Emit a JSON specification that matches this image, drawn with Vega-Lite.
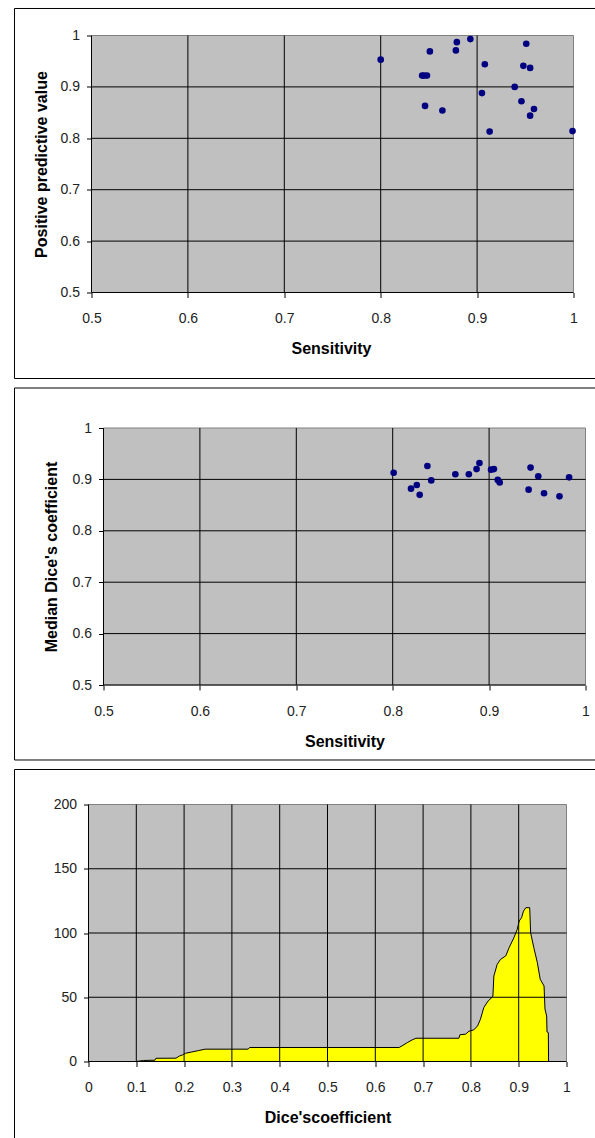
{
  "$schema": "https://vega.github.io/schema/vega-lite/v6.json",
  "padding": {"left": 13.5, "top": 7.5, "right": 0, "bottom": 0},
  "spacing": 7.5,
  "config": {
    "view": {"stroke": null},
    "axis": {
      "domain": false, "grid": false,
      "tickColor": "#000000", "tickSize": 5, "tickWidth": 1,
      "labelFont": "Liberation Sans", "labelFontSize": 14, "labelColor": "#222222",
      "titleFont": "Liberation Sans", "titleFontSize": 16, "titleFontWeight": "bold", "titleColor": "#000000",
      "labelOverlap": false, "labelFlush": false
    },
    "axisX": {"labelPadding": 14, "titlePadding": 15},
    "axisY": {"labelPadding": 7}
  },
  "vconcat": [
    {
      "width": 485,
      "height": 257,
      "layer": [
        {
          "data": {"values": [{}]},
          "mark": {"type": "rect", "fill": "#C0C0C0", "stroke": "#808080", "strokeWidth": 1},
          "encoding": {
            "x": {"datum": 0.5, "type": "quantitative", "scale": {"domain": [0.496888, 1], "nice": false, "zero": false},
              "axis": {"title": "Sensitivity", "values": [0.5, 0.6, 0.7, 0.8, 0.9, 1], "format": "~g"}},
            "x2": {"datum": 1},
            "y": {"datum": 0.5, "type": "quantitative", "scale": {"domain": [0.5, 1], "nice": false, "zero": false},
              "axis": {"title": "Positive predictive value", "values": [0.5, 0.6, 0.7, 0.8, 0.9, 1], "format": "~g", "titlePadding": 11, "offset": -3}},
            "y2": {"datum": 1}
          }
        },
        {
          "data": {"values": [{"v": 0.5}, {"v": 0.6}, {"v": 0.7}, {"v": 0.8}, {"v": 0.9}]},
          "mark": {"type": "rule", "color": "#000000", "strokeWidth": 1},
          "encoding": {
            "y": {"field": "v", "type": "quantitative"},
            "x": {"datum": 0.5, "type": "quantitative"},
            "x2": {"datum": 1}
          }
        },
        {
          "data": {"values": [{"v": 0.5}, {"v": 0.6}, {"v": 0.7}, {"v": 0.8}, {"v": 0.9}]},
          "mark": {"type": "rule", "color": "#000000", "strokeWidth": 1},
          "encoding": {
            "x": {"field": "v", "type": "quantitative"},
            "y": {"datum": 0.5, "type": "quantitative"},
            "y2": {"datum": 1}
          }
        },
        {
          "data": {"values": [
            {"sensitivity": 0.800, "ppv": 0.953},
            {"sensitivity": 0.851, "ppv": 0.969},
            {"sensitivity": 0.879, "ppv": 0.987},
            {"sensitivity": 0.878, "ppv": 0.971},
            {"sensitivity": 0.893, "ppv": 0.993},
            {"sensitivity": 0.951, "ppv": 0.984},
            {"sensitivity": 0.908, "ppv": 0.944},
            {"sensitivity": 0.948, "ppv": 0.941},
            {"sensitivity": 0.955, "ppv": 0.937},
            {"sensitivity": 0.843, "ppv": 0.922},
            {"sensitivity": 0.845, "ppv": 0.922},
            {"sensitivity": 0.848, "ppv": 0.922},
            {"sensitivity": 0.939, "ppv": 0.900},
            {"sensitivity": 0.905, "ppv": 0.888},
            {"sensitivity": 0.946, "ppv": 0.872},
            {"sensitivity": 0.846, "ppv": 0.863},
            {"sensitivity": 0.864, "ppv": 0.854},
            {"sensitivity": 0.959, "ppv": 0.857},
            {"sensitivity": 0.955, "ppv": 0.844},
            {"sensitivity": 0.913, "ppv": 0.813},
            {"sensitivity": 0.999, "ppv": 0.814}
          ]},
          "mark": {"type": "circle", "color": "#000080", "size": 44, "opacity": 1},
          "encoding": {
            "x": {"field": "sensitivity", "type": "quantitative"},
            "y": {"field": "ppv", "type": "quantitative"}
          }
        },
        {
          "data": {"values": [{}]},
          "mark": {"type": "rect", "filled": false, "stroke": "#000000", "strokeWidth": 1},
          "encoding": {
            "x": {"datum": 0.42012, "type": "quantitative"},
            "x2": {"datum": 1.028},
            "y": {"datum": 1.05253, "type": "quantitative"},
            "y2": {"datum": 0.33268}
          }
        }
      ]
    },
    {
      "width": 497,
      "height": 257,
      "layer": [
        {
          "data": {"values": [{}]},
          "mark": {"type": "rect", "fill": "#C0C0C0", "stroke": "#808080", "strokeWidth": 1},
          "encoding": {
            "x": {"datum": 0.5, "type": "quantitative", "scale": {"domain": [0.48444, 1], "nice": false, "zero": false},
              "axis": {"title": "Sensitivity", "values": [0.5, 0.6, 0.7, 0.8, 0.9, 1], "format": "~g", "titleX": 256}},
            "x2": {"datum": 1},
            "y": {"datum": 0.5, "type": "quantitative", "scale": {"domain": [0.5, 1], "nice": false, "zero": false},
              "axis": {"title": "Median Dice's coefficient", "values": [0.5, 0.6, 0.7, 0.8, 0.9, 1], "format": "~g", "titlePadding": 13, "offset": -15}},
            "y2": {"datum": 1}
          }
        },
        {
          "data": {"values": [{"v": 0.5}, {"v": 0.6}, {"v": 0.7}, {"v": 0.8}, {"v": 0.9}]},
          "mark": {"type": "rule", "color": "#000000", "strokeWidth": 1},
          "encoding": {
            "y": {"field": "v", "type": "quantitative"},
            "x": {"datum": 0.5, "type": "quantitative"},
            "x2": {"datum": 1}
          }
        },
        {
          "data": {"values": [{"v": 0.5}, {"v": 0.6}, {"v": 0.7}, {"v": 0.8}, {"v": 0.9}]},
          "mark": {"type": "rule", "color": "#000000", "strokeWidth": 1},
          "encoding": {
            "x": {"field": "v", "type": "quantitative"},
            "y": {"datum": 0.5, "type": "quantitative"},
            "y2": {"datum": 1}
          }
        },
        {
          "data": {"values": [
            {"sensitivity": 0.801, "dice": 0.913},
            {"sensitivity": 0.836, "dice": 0.926},
            {"sensitivity": 0.840, "dice": 0.898},
            {"sensitivity": 0.819, "dice": 0.882},
            {"sensitivity": 0.825, "dice": 0.889},
            {"sensitivity": 0.828, "dice": 0.870},
            {"sensitivity": 0.865, "dice": 0.910},
            {"sensitivity": 0.879, "dice": 0.910},
            {"sensitivity": 0.887, "dice": 0.920},
            {"sensitivity": 0.890, "dice": 0.932},
            {"sensitivity": 0.902, "dice": 0.919},
            {"sensitivity": 0.905, "dice": 0.920},
            {"sensitivity": 0.909, "dice": 0.899},
            {"sensitivity": 0.911, "dice": 0.894},
            {"sensitivity": 0.943, "dice": 0.923},
            {"sensitivity": 0.951, "dice": 0.906},
            {"sensitivity": 0.941, "dice": 0.880},
            {"sensitivity": 0.957, "dice": 0.873},
            {"sensitivity": 0.973, "dice": 0.867},
            {"sensitivity": 0.983, "dice": 0.904}
          ]},
          "mark": {"type": "circle", "color": "#000080", "size": 44, "opacity": 1},
          "encoding": {
            "x": {"field": "sensitivity", "type": "quantitative"},
            "y": {"field": "dice", "type": "quantitative"}
          }
        },
        {
          "data": {"values": [{}]},
          "mark": {"type": "rect", "filled": false, "stroke": "#000000", "strokeWidth": 1},
          "encoding": {
            "x": {"datum": 0.40768, "type": "quantitative"},
            "x2": {"datum": 1.01556},
            "y": {"datum": 1.07782, "type": "quantitative"},
            "y2": {"datum": 0.35409}
          }
        }
      ]
    },
    {
      "width": 478,
      "height": 257,
      "layer": [
        {
          "data": {"values": [{}]},
          "mark": {"type": "rect", "fill": "#C0C0C0", "stroke": "#808080", "strokeWidth": 1},
          "encoding": {
            "x": {"datum": 0, "type": "quantitative", "scale": {"domain": [0, 1], "nice": false, "zero": false},
              "axis": {"title": "Dice'scoefficient", "values": [0, 0.1, 0.2, 0.3, 0.4, 0.5, 0.6, 0.7, 0.8, 0.9, 1], "format": "~g"}},
            "x2": {"datum": 1},
            "y": {"datum": 0, "type": "quantitative", "scale": {"domain": [0, 200], "nice": false, "zero": false},
              "axis": {"title": null, "values": [0, 50, 100, 150, 200]}},
            "y2": {"datum": 200}
          }
        },
        {
          "data": {"values": [
            {"dice": 0.100, "count": 0},
            {"dice": 0.115, "count": 0.8},
            {"dice": 0.139, "count": 1.0},
            {"dice": 0.141, "count": 2.5},
            {"dice": 0.183, "count": 2.6},
            {"dice": 0.190, "count": 4.2},
            {"dice": 0.197, "count": 5.2},
            {"dice": 0.203, "count": 6.4},
            {"dice": 0.216, "count": 7.4},
            {"dice": 0.230, "count": 8.5},
            {"dice": 0.244, "count": 9.6},
            {"dice": 0.334, "count": 9.6},
            {"dice": 0.337, "count": 10.9},
            {"dice": 0.650, "count": 10.9},
            {"dice": 0.656, "count": 12.2},
            {"dice": 0.667, "count": 14.7},
            {"dice": 0.677, "count": 16.8},
            {"dice": 0.685, "count": 18.1},
            {"dice": 0.775, "count": 18.1},
            {"dice": 0.777, "count": 20.8},
            {"dice": 0.789, "count": 21.3},
            {"dice": 0.796, "count": 23.6},
            {"dice": 0.806, "count": 24.6},
            {"dice": 0.814, "count": 27.7},
            {"dice": 0.820, "count": 32.9},
            {"dice": 0.827, "count": 42.0},
            {"dice": 0.836, "count": 47.1},
            {"dice": 0.846, "count": 50.5},
            {"dice": 0.848, "count": 66.5},
            {"dice": 0.855, "count": 75.6},
            {"dice": 0.862, "count": 79.5},
            {"dice": 0.873, "count": 82.2},
            {"dice": 0.880, "count": 88.6},
            {"dice": 0.890, "count": 96.4},
            {"dice": 0.897, "count": 102.8},
            {"dice": 0.901, "count": 109.3},
            {"dice": 0.906, "count": 111.9},
            {"dice": 0.910, "count": 117.0},
            {"dice": 0.915, "count": 119.7},
            {"dice": 0.923, "count": 119.7},
            {"dice": 0.925, "count": 100.0},
            {"dice": 0.932, "count": 88.0},
            {"dice": 0.939, "count": 77.0},
            {"dice": 0.945, "count": 64.0},
            {"dice": 0.953, "count": 58.8},
            {"dice": 0.955, "count": 40.7},
            {"dice": 0.9585, "count": 35.4},
            {"dice": 0.9592, "count": 23.0},
            {"dice": 0.962, "count": 22.5},
            {"dice": 0.9625, "count": 0}
          ]},
          "mark": {"type": "area", "color": "#FFFF00", "opacity": 1, "interpolate": "linear",
            "line": {"color": "#000000", "strokeWidth": 1}},
          "encoding": {
            "x": {"field": "dice", "type": "quantitative"},
            "y": {"field": "count", "type": "quantitative"}
          }
        },
        {
          "data": {"values": [{"v": 0}, {"v": 50}, {"v": 100}, {"v": 150}]},
          "mark": {"type": "rule", "color": "#000000", "strokeWidth": 1},
          "encoding": {
            "y": {"field": "v", "type": "quantitative"},
            "x": {"datum": 0, "type": "quantitative"},
            "x2": {"datum": 1}
          }
        },
        {
          "data": {"values": [{"v": 0}, {"v": 0.1}, {"v": 0.2}, {"v": 0.3}, {"v": 0.4}, {"v": 0.5}, {"v": 0.6}, {"v": 0.7}, {"v": 0.8}, {"v": 0.9}]},
          "mark": {"type": "rule", "color": "#000000", "strokeWidth": 1},
          "encoding": {
            "x": {"field": "v", "type": "quantitative"},
            "y": {"datum": 0, "type": "quantitative"},
            "y2": {"datum": 200}
          }
        },
        {
          "data": {"values": [{}]},
          "mark": {"type": "rect", "filled": false, "stroke": "#000000", "strokeWidth": 1},
          "encoding": {
            "x": {"datum": -0.15481, "type": "quantitative"},
            "x2": {"datum": 1.07113},
            "y": {"datum": 227.237, "type": "quantitative"},
            "y2": {"datum": -60.7}
          }
        }
      ]
    }
  ]
}
